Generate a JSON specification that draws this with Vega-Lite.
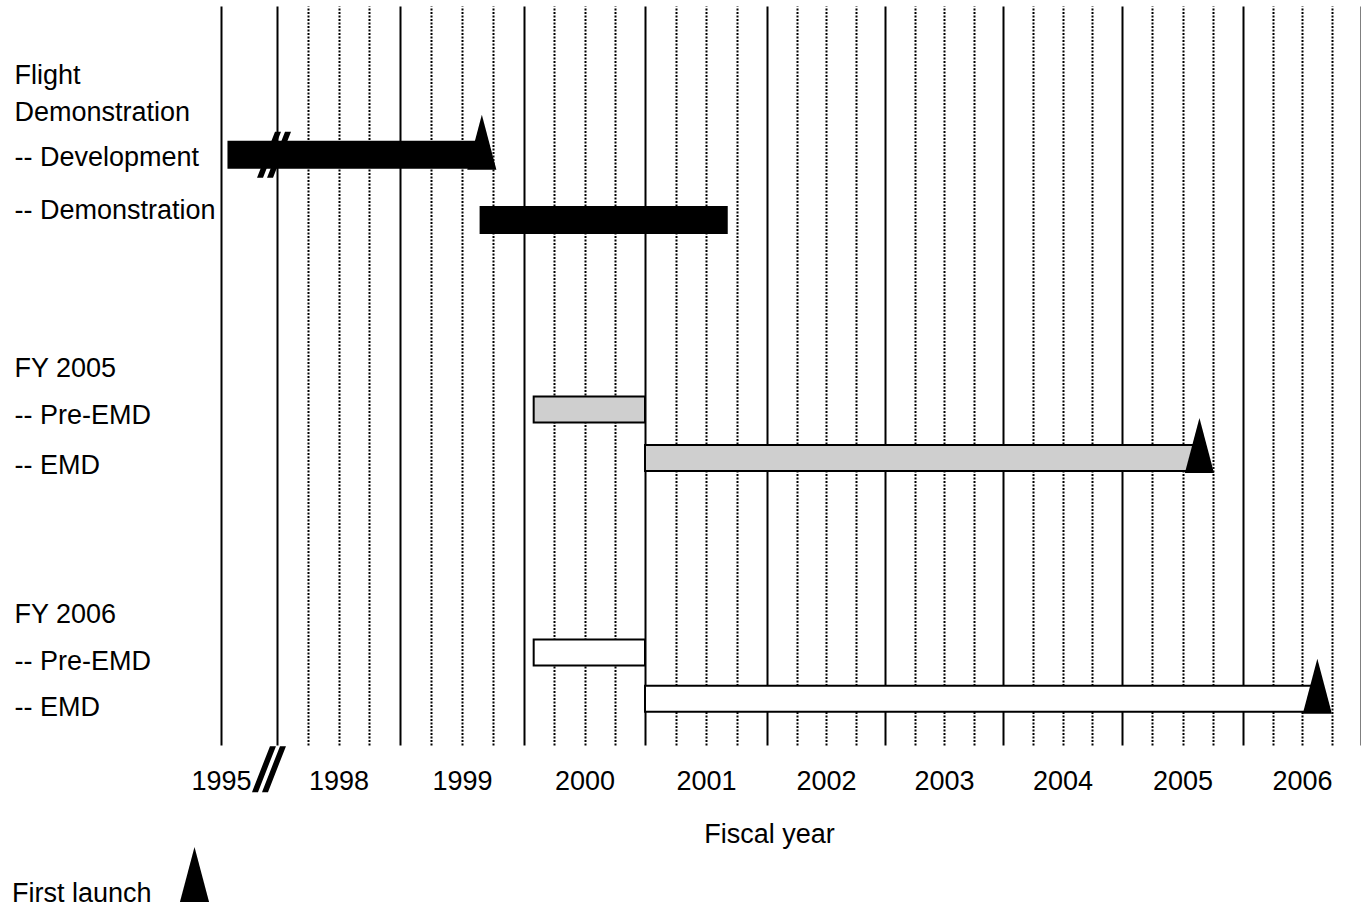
{
  "$schema": "https://vega.github.io/schema/vega-lite/v6.json",
  "width": 1140,
  "height": 739,
  "padding": {"left": 12, "top": 6, "right": 0, "bottom": 0},
  "background": "white",
  "config": {
    "view": {"stroke": null},
    "font": "Liberation Sans"
  },
  "datasets": {
    "tasks": [
      {"group": "Flight Demonstration", "task": "Development", "start": 1995.4, "end": 1999.66, "lane": 2.96},
      {"group": "Flight Demonstration", "task": "Demonstration", "start": 1999.65, "end": 2001.67, "lane": 4.3},
      {"group": "FY 2005", "task": "Pre-EMD", "start": 2000.08, "end": 2001.0, "lane": 8.2},
      {"group": "FY 2005", "task": "EMD", "start": 2001.0, "end": 2005.64, "lane": 9.2},
      {"group": "FY 2006", "task": "Pre-EMD", "start": 2000.08, "end": 2001.0, "lane": 13.2},
      {"group": "FY 2006", "task": "EMD", "start": 2001.0, "end": 2006.63, "lane": 14.15}
    ],
    "launches": [
      {"event": "First launch", "t": 1999.66, "lane": 2.96},
      {"event": "First launch", "t": 2005.64, "lane": 9.2},
      {"event": "First launch", "t": 2006.63, "lane": 14.15}
    ],
    "breaks": [
      {"where": "Development bar", "t": 1997.84, "lane": 2.96},
      {"where": "Fiscal year axis", "t": 1997.57, "lane": 15.6}
    ]
  },
  "resolve": {"scale": {"fill": "independent"}},
  "layer": [
    {
      "data": {"name": "tasks"},
      "mark": {"type": "bar", "height": 26, "stroke": "black", "strokeWidth": 2},
      "encoding": {
        "x": {
          "field": "start",
          "type": "quantitative",
          "scale": {
            "domain": [1995, 1998, 1999, 2000, 2001, 2002, 2003, 2004, 2005, 2006, 2007],
            "range": [0, 56, 179, 303, 424, 546, 664, 782, 901, 1022, 1140],
            "zero": false,
            "nice": false
          },
          "axis": {
            "values": [1995, 1998, 1998.25, 1998.5, 1998.75, 1999, 1999.25, 1999.5, 1999.75, 2000, 2000.25, 2000.5, 2000.75, 2001, 2001.25, 2001.5, 2001.75, 2002, 2002.25, 2002.5, 2002.75, 2003, 2003.25, 2003.5, 2003.75, 2004, 2004.25, 2004.5, 2004.75, 2005, 2005.25, 2005.5, 2005.75, 2006, 2006.25, 2006.5, 2006.75, 2007],
            "tickCount": 200,
            "labelExpr": "datum.value == 1995 ? '1995' : (datum.value % 1 == 0.5 ? toString(floor(datum.value)) : '')",
            "labelFontSize": 27,
            "labelColor": "black",
            "labelPadding": 23,
            "labelFlush": false,
            "labelOverlap": false,
            "labelBound": false,
            "ticks": false,
            "tickSize": 0,
            "domain": false,
            "grid": true,
            "gridColor": "black",
            "gridOpacity": 1,
            "gridWidth": 2,
            "gridDash": {"condition": {"test": "datum.value % 1 == 0", "value": []}, "value": [2, 1.5]},
            "title": "Fiscal year",
            "titleFontSize": 27,
            "titleFontWeight": "normal",
            "titleColor": "black",
            "titleX": 548,
            "titleY": 97,
            "titleBaseline": "alphabetic",
            "titleAlign": "center"
          }
        },
        "x2": {"field": "end"},
        "y": {
          "field": "lane",
          "type": "quantitative",
          "scale": {"domain": [0, 15], "reverse": true, "zero": false, "nice": false},
          "axis": {
            "values": [1.32, 2.09, 3.02, 4.1, 7.35, 8.32, 9.36, 12.42, 13.39, 14.33],
            "tickCount": 100,
            "labelExpr": "datum.value < 2 ? 'Flight' : datum.value < 3 ? 'Demonstration' : datum.value < 4 ? '-- Development' : datum.value < 5 ? '-- Demonstration' : datum.value < 8 ? 'FY 2005' : datum.value < 9 ? '-- Pre-EMD' : datum.value < 10 ? '-- EMD' : datum.value < 13 ? 'FY 2006' : datum.value < 14 ? '-- Pre-EMD' : '-- EMD'",
            "labelAlign": "left",
            "labelBaseline": "middle",
            "labelPadding": 207,
            "labelFontSize": 27,
            "labelColor": "black",
            "labelLimit": 400,
            "labelOverlap": false,
            "labelFlush": false,
            "ticks": false,
            "tickSize": 0,
            "domain": false,
            "grid": false,
            "title": null
          }
        },
        "fill": {
          "field": "group",
          "type": "nominal",
          "scale": {"domain": ["Flight Demonstration", "FY 2005", "FY 2006"], "range": ["black", "#cfcfcf", "white"]},
          "legend": null
        }
      }
    },
    {
      "data": {"name": "launches"},
      "mark": {"type": "point", "filled": true, "shape": "M-0.53,0.545L0,-1.455L0.53,0.545Z", "size": 3025, "opacity": 1, "strokeWidth": 0},
      "encoding": {
        "x": {"field": "t", "type": "quantitative"},
        "y": {"field": "lane", "type": "quantitative"},
        "fill": {
          "field": "event",
          "type": "nominal",
          "scale": {"range": ["black"]},
          "legend": {
            "orient": "none",
            "legendX": -209,
            "legendY": 841,
            "padding": 0,
            "title": "First launch",
            "titleOrient": "left",
            "titleAnchor": "end",
            "titleBaseline": "alphabetic",
            "titleFontSize": 27,
            "titleFontWeight": "normal",
            "titleColor": "black",
            "titlePadding": 15,
            "labelExpr": "''",
            "symbolType": "M-0.53,1L0,-1L0.53,1Z",
            "symbolSize": 3025,
            "symbolFillColor": "black",
            "symbolStrokeWidth": 0,
            "symbolOpacity": 1
          }
        }
      }
    },
    {
      "data": {"name": "breaks"},
      "mark": {"type": "point", "filled": true, "shape": "M-0.68,0.92L-0.44,0.92L0.28,-0.92L0.04,-0.92ZM-0.28,0.92L-0.04,0.92L0.68,-0.92L0.44,-0.92Z", "size": 2500, "color": "black", "opacity": 1, "strokeWidth": 0},
      "encoding": {
        "x": {"field": "t", "type": "quantitative"},
        "y": {"field": "lane", "type": "quantitative"}
      }
    }
  ]
}
